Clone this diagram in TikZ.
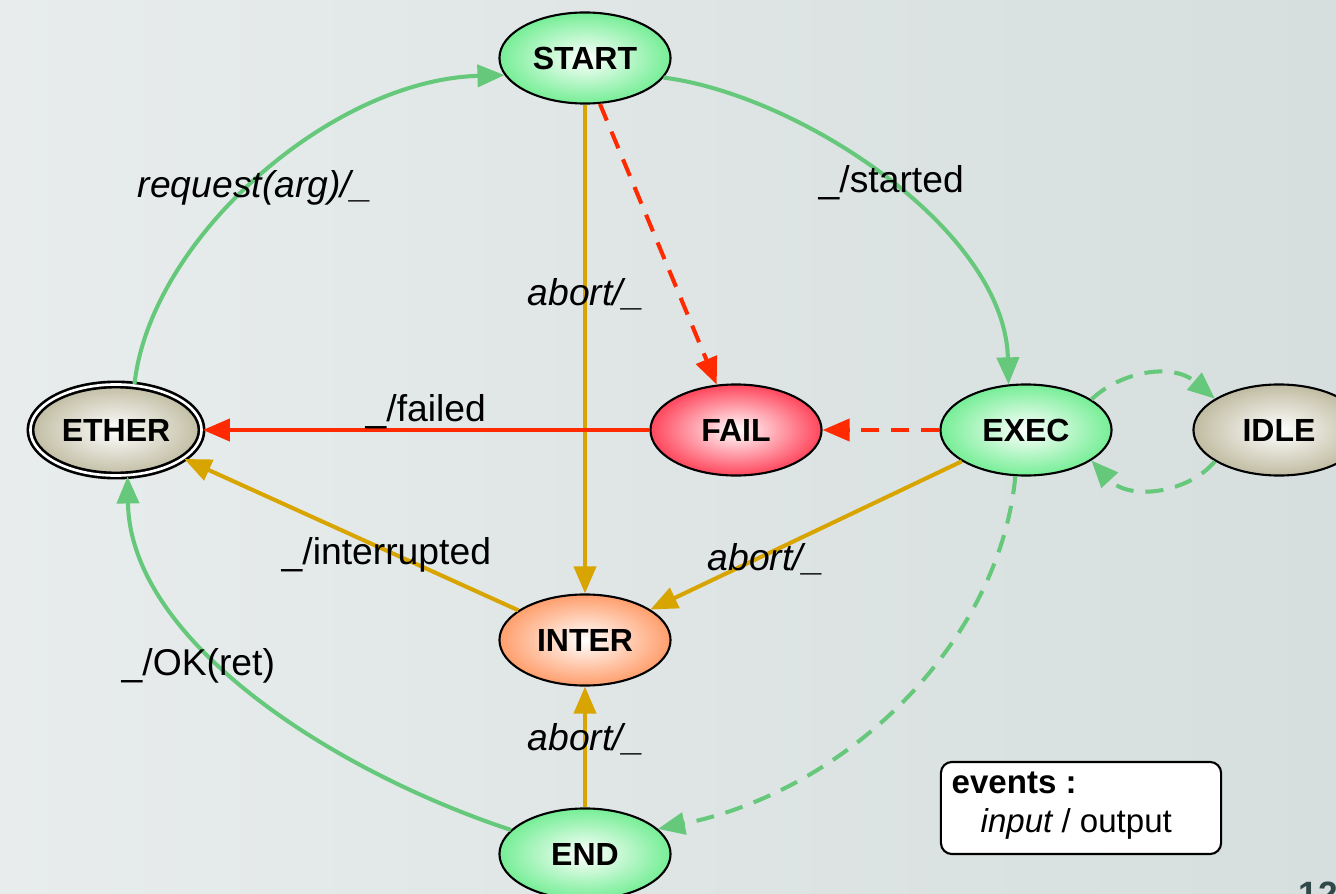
\documentclass[tikz,border=0pt]{standalone}
\usepackage{fontspec}
\setmainfont{Liberation Sans}
\usetikzlibrary{arrows.meta,shapes.geometric}

% state fills
\definecolor{stGreen}{RGB}{118,238,150}
\definecolor{stRed}{RGB}{255,70,92}
\definecolor{stOrange}{RGB}{255,158,108}
\definecolor{stGrey}{RGB}{192,188,162}
% transition colours
\definecolor{lnGreen}{RGB}{102,200,122}
\definecolor{lnGold}{RGB}{216,164,0}
\definecolor{lnRed}{RGB}{255,42,0}
% slide background
\definecolor{bgL}{RGB}{232,236,236}
\definecolor{bgR}{RGB}{214,222,222}
\definecolor{pageno}{RGB}{48,72,72}

\tikzset{
  state/.style={ellipse, draw=black, line width=0.6pt,
    minimum width=1.71cm, minimum height=0.91cm, inner sep=0pt,
    font=\fontsize{9.1}{11}\selectfont\bfseries, inner color=white},
  greenstate/.style={state, outer color=stGreen},
  redstate/.style={state, outer color=stRed},
  orangestate/.style={state, outer color=stOrange},
  greystate/.style={state, outer color=stGrey},
  finalstate/.style={greystate, line width=0.75pt, double=white, double distance=0.75pt},
  trans/.style={line width=1.15pt, -{Triangle[length=2.7mm,width=2.2mm]}},
  okline/.style={trans, draw=lnGreen},
  okdash/.style={okline, dash pattern=on 1.8mm off 1.2mm},
  abortline/.style={trans, draw=lnGold},
  failline/.style={trans, draw=lnRed},
  faildash/.style={failline, dash pattern=on 1.8mm off 1.2mm},
  lab/.style={font=\fontsize{10.6}{12}\selectfont, inner sep=0pt, anchor=base west},
  legendbox/.style={draw=black, line width=0.6pt, fill=white, rounded corners=1.1mm,
    minimum width=2.8cm, minimum height=0.92cm, inner sep=0pt},
  legendtext/.style={font=\fontsize{9.4}{11}\selectfont, inner sep=0pt, anchor=base west}
}

\begin{document}
\begin{tikzpicture}[x=0.01cm,y=-0.01cm]
\useasboundingbox (0,0) rectangle (1336,894);
\clip (0,0) rectangle (1336,894);
\fill[left color=bgL, right color=bgR] (0,0) rectangle (1336,894);

% states
\node[greenstate]  (start) at (585,58)  {START};
\node[finalstate]  (ether) at (116,430) {ETHER};
\node[redstate]    (fail)  at (736,430) {FAIL};
\node[greenstate]  (exec)  at (1026,430) {EXEC};
\node[greystate]   (idle)  at (1279,430) {IDLE};
\node[orangestate] (inter) at (585,640) {INTER};
\node[greenstate]  (end)   at (585,854) {END};

% transitions
\draw[okline] (ether.68) .. controls (150,240) and (330,80) .. (start.192);
\draw[okline] (start.-14) .. controls (800,95) and (1005,230) .. (exec.111);
\draw[abortline] (start.south) -- (inter.north);
\draw[faildash] (start.-72) -- (fail.113);
\draw[failline] (fail.west) -- (ether.east);
\draw[faildash] (exec.west) -- (fail.east);
\draw[okdash] (exec.25) .. controls (1120,372) and (1172,362) .. (idle.154);
\draw[okdash] (idle.206) .. controls (1190,492) and (1130,502) .. (exec.-25);
\draw[abortline] (exec.206) -- (inter.25);
\draw[abortline] (inter.156) -- (ether.-23);
\draw[okdash] (exec.257) .. controls (1000,640) and (850,790) .. (end.19);
\draw[abortline] (end.north) -- (inter.south);
\draw[okline] (end.162) .. controls (330,770) and (130,640) .. (ether.-76);

% transition labels
\node[lab] (l1) at (137,198) {\itshape request(arg)/\_};
\node[lab] (l2) at (818,193) {\_/started};
\node[lab] (l3) at (527,305) {\itshape abort/\_};
\node[lab] (l4) at (365,421) {\_/failed};
\node[lab] (l5) at (281,564) {\_/interrupted};
\node[lab] (l6) at (707,570) {\itshape abort/\_};
\node[lab] (l7) at (121,675) {\_/OK(ret)};
\node[lab] (l8) at (527,750) {\itshape abort/\_};

% legend
\node[legendbox] (legend) at (1081,808) {};
\node[legendtext] (ev) at (951,793) {\bfseries events :};
\node[legendtext] (io) at (980,832) {\itshape input\upshape{} / output};

% slide number
\node[font=\fontsize{10}{12}\selectfont\bfseries, text=pageno, inner sep=0pt, anchor=north west] (pg) at (1298,881) {12};
\end{tikzpicture}
\end{document}
